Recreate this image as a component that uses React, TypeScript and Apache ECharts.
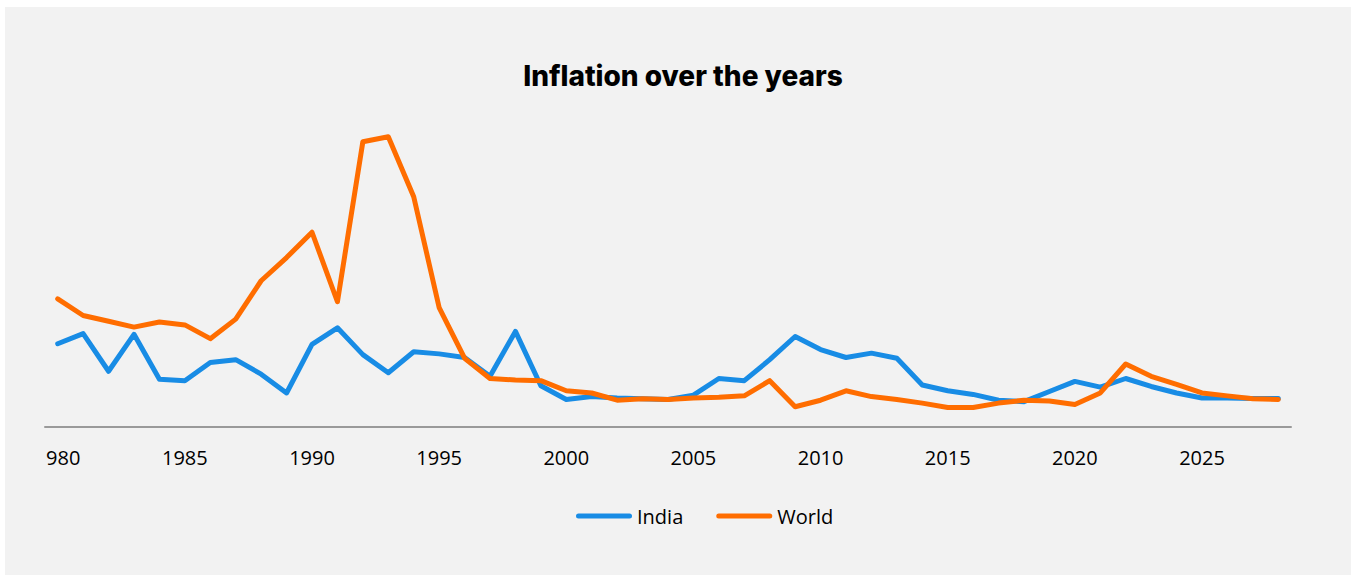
import React, { useEffect, useRef } from "react";
import * as echarts from "echarts";

const years: string[] = [];
for (let y = 1980; y <= 2028; y++) years.push(String(y));

const india = [
  11.5, 12.9, 7.7, 12.8, 6.6, 6.4, 8.9, 9.3, 7.3, 4.7,
  11.4, 13.7, 10.0, 7.5, 10.4, 10.1, 9.6, 7.0, 13.2, 5.7,
  3.8, 4.2, 4.0, 3.9, 3.8, 4.4, 6.7, 6.4, 9.3, 12.5,
  10.7, 9.6, 10.2, 9.5, 5.8, 5.0, 4.5, 3.7, 3.5, 4.9,
  6.3, 5.5, 6.7, 5.6, 4.7, 4.0, 4.0, 3.95, 3.95,
];

const world = [
  17.7, 15.4, 14.6, 13.8, 14.5, 14.1, 12.2, 14.9, 20.2, 23.4,
  26.9, 17.3, 39.4, 40.1, 31.8, 16.5, 9.5, 6.7, 6.5, 6.4,
  5.0, 4.7, 3.7, 3.9, 3.8, 4.0, 4.1, 4.3, 6.4, 2.8,
  3.7, 5.0, 4.2, 3.8, 3.3, 2.7, 2.7, 3.3, 3.7, 3.6,
  3.1, 4.7, 8.7, 7.0, 5.9, 4.7, 4.3, 3.9, 3.8,
];

const BLUE = "#188ce5";
const ORANGE = "#ff6d00";
const legendIcon =
  "path://M2.5,0 H53.5 A2.5,2.5 0 0 1 53.5,5 H2.5 A2.5,2.5 0 0 1 2.5,0 Z";

export default function App() {
  const ref = useRef<HTMLDivElement>(null);
  useEffect(() => {
    if (!ref.current) return;
    const chart = echarts.init(ref.current, null, { renderer: "svg" });
    chart.setOption({
      animation: false,
      backgroundColor: "#f2f2f2",
      title: {
        text: "Inflation over the years",
        left: 673,
        textAlign: "center",
        top: 50,
        textStyle: {
          fontFamily: "Inter",
          fontWeight: 800,
          fontSize: 28,
          color: "#000",
        },
      },
      legend: {
        left: 566,
        top: 494,
        itemWidth: 56,
        itemHeight: 5,
        itemGap: 33,
        icon: legendIcon,
        textStyle: {
          fontFamily: "Open Sans",
          fontSize: 20,
          color: "#000",
          padding: [0, 0, 0, 0],
        },
        data: [
          { name: "India", itemStyle: { color: BLUE } },
          { name: "World", itemStyle: { color: ORANGE } },
        ],
      },
      grid: { left: 40, right: 60, top: 58, bottom: 148 },
      xAxis: {
        type: "category",
        data: years,
        boundaryGap: true,
        axisLine: { lineStyle: { color: "#9a9a9a", width: 2 } },
        axisTick: { show: false },
        axisLabel: {
          interval: 4,
          margin: 20,
          fontFamily: "Open Sans",
          fontSize: 20,
          color: "#000",
          formatter: (v: string, i: number) =>
            i === 0 ? "{clip|" + v.slice(1) + "}" : v,
          rich: {
            clip: {
              fontFamily: "Open Sans",
              fontSize: 20,
              color: "#000",
              padding: [0, 0, 0, 11],
            },
          },
        },
      },
      yAxis: {
        type: "value",
        min: 0,
        max: 50,
        show: false,
        splitLine: { show: false },
      },
      series: [
        {
          name: "India",
          type: "line",
          data: india,
          symbol: "none",
          color: BLUE,
          lineStyle: { color: BLUE, width: 5, cap: "round", join: "round" },
        },
        {
          name: "World",
          type: "line",
          data: world,
          symbol: "none",
          color: ORANGE,
          lineStyle: { color: ORANGE, width: 5, cap: "round", join: "round" },
        },
      ],
    });
    return () => chart.dispose();
  }, []);
  return (
    <div
      style={{
        position: "fixed",
        left: 0,
        top: 0,
        width: 1351,
        height: 575,
        background: "#ffffff",
      }}
    >
      <div
        ref={ref}
        style={{
          position: "absolute",
          left: 5,
          top: 7,
          width: 1346,
          height: 568,
        }}
      />
    </div>
  );
}
